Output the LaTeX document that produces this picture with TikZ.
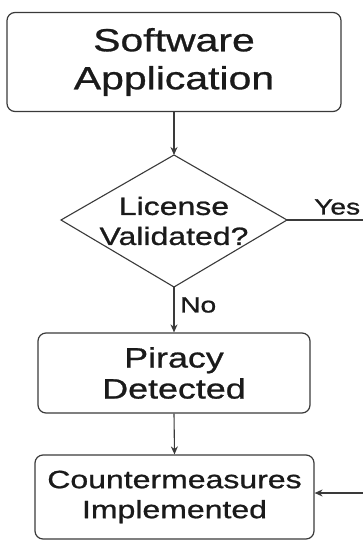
\documentclass[tikz,border=0pt]{standalone}
\usepackage{fontspec}
\setmainfont{Liberation Sans}
\newfontfamily\widesans[FakeStretch=1.28,FakeBold=0.9]{Liberation Sans}
\usetikzlibrary{arrows.meta,shapes.geometric}
\definecolor{linecol}{HTML}{3A3A3A}
\definecolor{txtcol}{HTML}{1A1A1A}
\tikzset{
  boxnode/.style={draw=linecol, line width=1.2pt, rounded corners=8pt, align=center, inner sep=0pt, text=txtcol},
  flow/.style={draw=linecol, line width=1.1pt, -{Stealth[length=8pt,width=7pt]}},
  plain/.style={draw=linecol, line width=1.1pt},
  lbl/.style={text=txtcol, inner sep=0pt}
}
\begin{document}
\begin{tikzpicture}[x=1pt,y=-1pt]
\useasboundingbox (0,0) rectangle (362,540);
\node[boxnode, minimum width=334pt, minimum height=99pt,
  font=\widesans\fontsize{32}{38}\selectfont] (app) at (174,62) {Software\\Application};
\draw[plain, fill=white] (174,155) -- (287,220) -- (174,287) -- (61,220) -- cycle;
\coordinate (dtop) at (174,155);
\coordinate (dright) at (287,220);
\coordinate (dbot) at (174,287);
\node[lbl, align=center, font=\widesans\fontsize{25}{30}\selectfont] (lic) at (174,221) {License\\Validated?};
\node[boxnode, minimum width=272pt, minimum height=80pt,
  font=\widesans\fontsize{28}{31}\selectfont] (pir) at (174,373) {Piracy\\Detected};
\node[boxnode, minimum width=279pt, minimum height=84pt,
  font=\widesans\fontsize{25}{30}\selectfont] (cm) at (174.5,497) {Countermeasures\\Implemented};
\coordinate (rtop) at (363.2,220);
\coordinate (rbot) at (363.2,493);
\draw[flow] (app.south) -- (dtop);
\draw[flow] (dbot) -- (pir.north);
\draw[flow] (pir.south) -- (cm.north);
\draw[plain] (dright) -- (rtop) -- (rbot);
\draw[flow] (rbot) -- (cm.east |- rbot);
\node[lbl, anchor=west, font=\widesans\fontsize{22}{26}\selectfont] (yes) at (314,207) {Yes};
\node[lbl, anchor=west, font=\widesans\fontsize{22}{26}\selectfont] (no) at (180,305) {No};
\end{tikzpicture}
\end{document}
